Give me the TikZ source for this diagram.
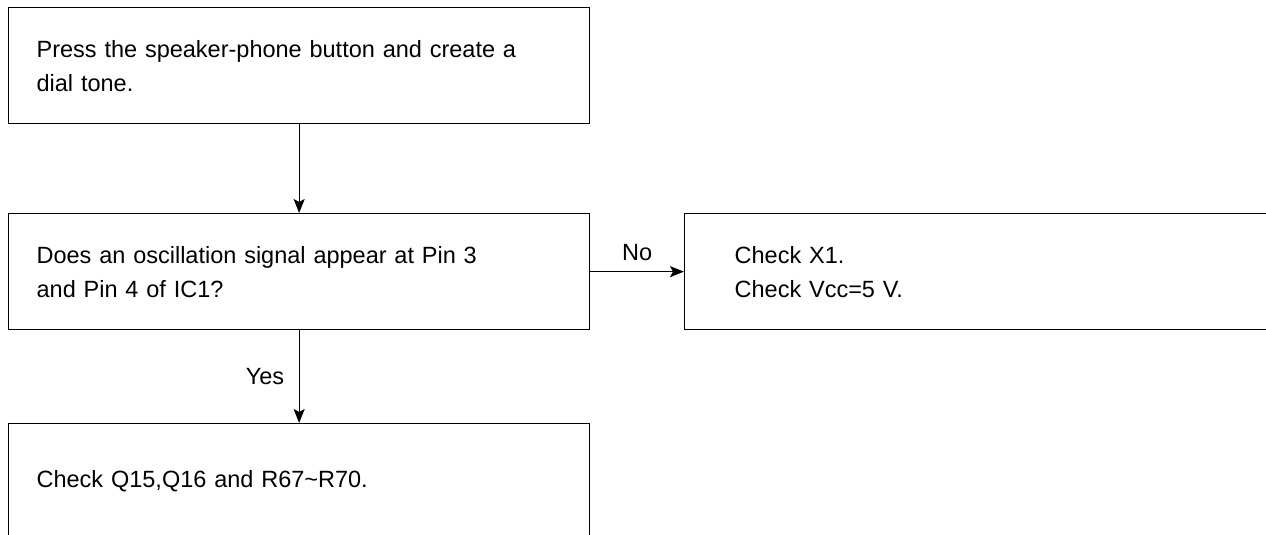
\documentclass[tikz,border=0pt]{standalone}
\usepackage{fontspec}
\setmainfont{Liberation Sans}
\usetikzlibrary{arrows.meta, positioning}

\begin{document}
\begin{tikzpicture}[x=1pt, y=-1pt,
    flowbox/.style={draw, line width=1.3pt, anchor=north west,
      minimum width=581pt, minimum height=116pt,
      text width=525pt, inner xsep=28pt, align=left,
      font=\fontsize{23.5}{34}\selectfont},
    flowarrow/.style={-{Stealth[length=14pt, width=11pt, inset=3pt]},
      line width=1.3pt},
    flowlabel/.style={font=\fontsize{23.5}{34}\selectfont}]
  \useasboundingbox (0,0) rectangle (1266,535);

  % ---- boxes ----
  \node[flowbox] (press) at (8,7)
        {Press the speaker-phone button and create a\\dial tone.};
  \node[flowbox] (osc) at (8,213)
        {Does an oscillation signal appear at Pin 3\\and Pin 4 of IC1?};
  \node[flowbox, text width=490pt, inner xsep=50pt] (chkx) at (684,213)
        {Check X1.\\Check Vcc=5 V.};
  \node[flowbox] (chkq) at (8,423)
        {Check Q15,Q16 and R67\textasciitilde R70.};

  % ---- connectors ----
  \draw[flowarrow] (press.south) -- (osc.north);
  \draw[flowarrow] (osc.east) -- (chkx.west)
        node[flowlabel, midway, above=7pt] (no) {No};
  \draw[flowarrow] (osc.south) -- (chkq.north)
        node[flowlabel, midway, left=11pt] (yes) {Yes};
\end{tikzpicture}
\end{document}
